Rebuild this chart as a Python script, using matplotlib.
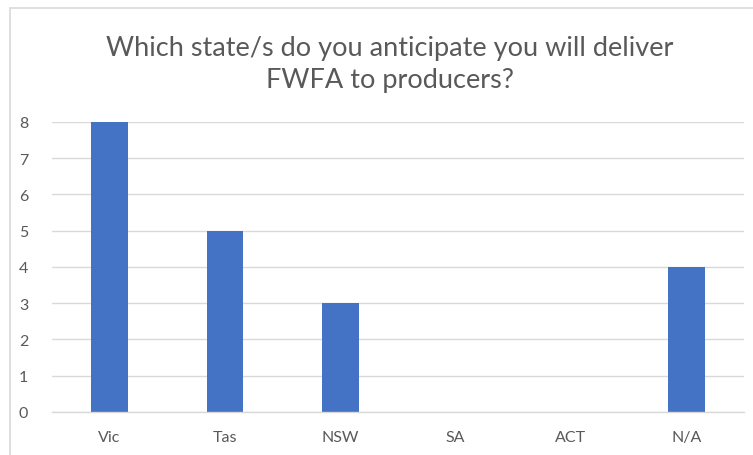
import matplotlib.pyplot as plt
from matplotlib.patches import Rectangle

# Data
states = ['Vic', 'Tas', 'NSW', 'SA', 'ACT', 'N/A']
counts = [8, 5, 3, 0, 0, 4]
yticks = [0, 1, 2, 3, 4, 5, 6, 7, 8]

title = 'Which state/s do you anticipate you will deliver\nFWFA to producers?'

plt.rcParams['font.family'] = ['Lato', 'DejaVu Sans']

fig = plt.figure(figsize=(7.53, 4.56), dpi=100)
ax = fig.add_axes([0.069, 0.0943, 0.919, 0.636])

# chart area border (Excel style)
fig.patches.append(Rectangle((10 / 753, -0.1), 1.2, (456 - 9) / 456 + 0.1,
                             transform=fig.transFigure, fill=False,
                             edgecolor='#D9D9D9', linewidth=1.2))

x = range(len(states))
ax.bar(x, counts, width=0.32, color='#4472C4', zorder=3)

ax.set_xlim(-0.5, len(states) - 0.5)
ax.set_ylim(0, 8)
ax.set_yticks(yticks)
ax.set_xticks(list(x))
ax.set_xticklabels(states)

ax.grid(axis='y', color='#D9D9D9', linewidth=1, zorder=0)
for s in ['top', 'right', 'left']:
    ax.spines[s].set_visible(False)
ax.spines['bottom'].set_color('#D9D9D9')
ax.spines['bottom'].set_linewidth(1)
ax.spines['bottom'].set_zorder(4)

ax.tick_params(axis='both', length=0, colors='#595959', labelsize=11.5)
ax.tick_params(axis='y', pad=17)
ax.tick_params(axis='x', pad=13)

fig.text(0.518, 0.858, title, ha='center', va='center', fontsize=19.5,
         color='#595959', linespacing=1.35)

fig.savefig('out.png', dpi=100)
